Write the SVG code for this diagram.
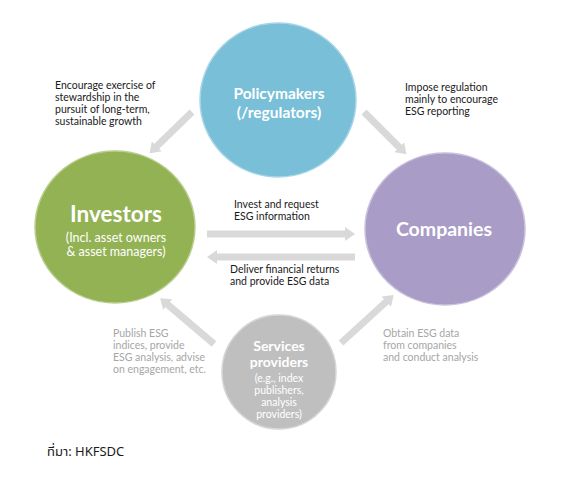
<svg xmlns="http://www.w3.org/2000/svg" width="564" height="478" viewBox="0 0 564 478">
<style>
.conn{stroke:#d9d9d9;stroke-width:7;fill:none;marker-end:url(#ah)}
.ht{font-family:Lato,"Open Sans","Liberation Sans",sans-serif;font-weight:bold;fill:#ffffff;text-anchor:middle}
.st{font-family:Lato,"Open Sans","Liberation Sans",sans-serif;fill:#ffffff;text-anchor:middle}
.lbl{font-family:Lato,"Open Sans","Liberation Sans",sans-serif;font-size:10.5px;fill:#1a1a1a}
.glbl{font-family:Lato,"Open Sans","Liberation Sans",sans-serif;font-size:10.5px;fill:#a6a6a6}
</style>
<defs>
<marker id="ah" viewBox="0 0 10 14" markerWidth="10" markerHeight="14" refX="1" refY="7" orient="auto" markerUnits="userSpaceOnUse">
<path d="M0,0 L10,7 L0,14 z" fill="#d9d9d9"/>
</marker>
</defs>
<rect width="564" height="478" fill="#ffffff"/>
<g id="connectors">
<line class="conn" x1="192" y1="112" x2="156" y2="147"/>
<line class="conn" x1="364" y1="112" x2="400" y2="148"/>
<line class="conn" x1="207" y1="234" x2="346" y2="234"/>
<line class="conn" x1="355" y1="257" x2="216" y2="257"/>
<line class="conn" x1="214" y1="344" x2="167" y2="304"/>
<line class="conn" x1="341" y1="343" x2="387" y2="301"/>
</g>
<g id="policymakers">
<ellipse cx="278" cy="100" rx="78" ry="77" fill="#78bfd7" stroke="#a9d6e6" stroke-width="1.5"/>
<text class="ht" x="279" y="99" font-size="15.5">Policymakers</text>
<text class="ht" x="279" y="118" font-size="15.5">(/regulators)</text>
</g>
<g id="investors">
<ellipse cx="115" cy="227" rx="80" ry="76" fill="#93b254" stroke="#b9cf8f" stroke-width="1.5"/>
<text class="ht" x="116" y="222" font-size="22.5">Investors</text>
<text class="st" x="116" y="242" font-size="12.5">(Incl. asset owners</text>
<text class="st" x="116" y="256" font-size="12.5">&amp; asset managers)</text>
</g>
<g id="companies">
<ellipse cx="445" cy="229" rx="80" ry="76" fill="#a99cc7" stroke="#c9c0dc" stroke-width="1.5"/>
<text class="ht" x="444" y="236" font-size="19.5">Companies</text>
</g>
<g id="services">
<circle cx="279" cy="372" r="57" fill="#bfbfbf" stroke="#d6d6d6" stroke-width="1.5"/>
<text class="ht" x="279" y="351" font-size="14">Services</text>
<text class="ht" x="279" y="367" font-size="14">providers</text>
<text class="st" x="279" y="382" font-size="10.5">(e.g., index</text>
<text class="st" x="279" y="394" font-size="10.5">publishers,</text>
<text class="st" x="279" y="406" font-size="10.5">analysis</text>
<text class="st" x="279" y="418" font-size="10.5">providers)</text>
</g>
<g id="labels">
<text class="lbl" x="55" y="89">Encourage exercise of</text>
<text class="lbl" x="55" y="101">stewardship in the</text>
<text class="lbl" x="55" y="113">pursuit of long-term,</text>
<text class="lbl" x="55" y="125">sustainable growth</text>
<text class="lbl" x="405" y="91">Impose regulation</text>
<text class="lbl" x="405" y="103">mainly to encourage</text>
<text class="lbl" x="405" y="115">ESG reporting</text>
<text class="lbl" x="234" y="208">Invest and request</text>
<text class="lbl" x="234" y="220">ESG information</text>
<text class="lbl" x="230" y="273">Deliver financial returns</text>
<text class="lbl" x="230" y="285">and provide ESG data</text>
<text class="glbl" x="113" y="337">Publish ESG</text>
<text class="glbl" x="113" y="349">indices, provide</text>
<text class="glbl" x="113" y="361">ESG analysis, advise</text>
<text class="glbl" x="113" y="373">on engagement, etc.</text>
<text class="glbl" x="383" y="337">Obtain ESG data</text>
<text class="glbl" x="383" y="349">from companies</text>
<text class="glbl" x="383" y="361">and conduct analysis</text>
<text x="47" y="456" font-family="Tahoma,'Noto Sans Thai','Liberation Sans',sans-serif" font-size="13" fill="#1a1a1a">ที่มา: HKFSDC</text>
</g>
</svg>
